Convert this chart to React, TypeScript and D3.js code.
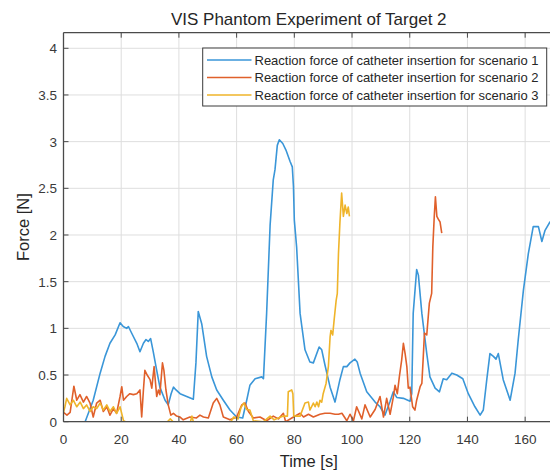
import React, { useEffect, useRef } from 'react';
import * as d3 from 'd3';

// reaction force, [time s, force N]
const scenario1: [number, number][] = [
  [0, 0], [7.5, 0], [10.3, 0.23], [12.7, 0.52], [14.4, 0.7], [16.1, 0.84], [17.9, 0.93], [19.6, 1.06],
  [20.7, 1.02], [21.9, 1.0], [22.5, 1.02], [23.6, 0.95], [25.4, 0.84], [26.5, 0.75], [27.7, 0.84], [28.6, 0.88],
  [29.4, 0.86], [30.2, 0.89], [31.1, 0.75], [32.3, 0.55], [33.4, 0.37], [35.2, 0.23], [36.3, 0.18], [37.3, 0.3],
  [38.1, 0.37], [39, 0.34], [40.4, 0.3], [42.7, 0.27], [45, 0.24], [45.9, 0.63], [46.7, 1.18], [47.9, 1.05],
  [49.6, 0.7], [51.4, 0.48], [53.1, 0.34], [55.4, 0.23], [57.7, 0.125], [60, 0.05], [62.1, 0.04], [63.5, 0.23],
  [64.6, 0.39], [66.4, 0.46], [68.7, 0.48], [69.3, 0.46], [70.4, 1.16], [71.6, 2.1], [72.7, 2.59], [73.3, 2.7],
  [74.1, 2.96], [74.8, 3.02], [76, 2.98], [77.1, 2.91], [78.5, 2.79], [79.3, 2.73], [79.7, 2.52], [80, 2.16],
  [80.8, 1.87], [82, 1.16], [82.6, 1.02], [83.7, 0.77], [85.4, 0.64], [86.6, 0.63], [88.6, 0.8], [89.5, 0.77],
  [90.6, 0.61], [92.4, 0.37], [94.1, 0.21], [95.8, 0.45], [97, 0.59], [98.2, 0.59], [99.3, 0.63], [101, 0.67],
  [101.8, 0.64], [102.8, 0.52], [105.1, 0.32], [108, 0.21], [109.7, 0.16], [111.4, 0.07], [113.2, 0.22],
  [114.3, 0.32], [115.5, 0.26], [117.8, 0.25], [120.1, 0.22], [120.7, 0.3], [121.2, 1.16], [122.4, 1.63],
  [123, 1.57], [124.2, 1.16], [125.9, 0.73], [127, 0.48], [128.8, 0.36], [130.3, 0.32], [131.6, 0.46],
  [132.8, 0.45], [134.6, 0.52], [136.3, 0.5], [138.4, 0.46], [140.3, 0.3], [142.6, 0.16], [144.4, 0.07],
  [145.5, 0.125], [146.7, 0.45], [147.8, 0.73], [149, 0.7], [149.9, 0.67], [150.7, 0.73], [152.4, 0.45],
  [154.8, 0.23], [156.5, 0.52], [157.6, 0.875], [159.4, 1.41], [161.1, 1.8], [162.8, 2.09], [164.6, 2.09],
  [165.8, 1.93], [166.9, 2.05], [168.6, 2.14], [170, 2.15],
];

const scenario2: [number, number][] = [
  [0, 0.1], [1.2, 0.07], [2.3, 0.1], [3.6, 0.38], [4.6, 0.23], [5.7, 0.29], [6.9, 0.21], [8, 0.27],
  [9.2, 0.2], [10.3, 0.05], [11.5, 0.2], [12.7, 0.23], [13.8, 0.11], [15, 0.16], [16.1, 0.07], [17.3, 0.14],
  [18.4, 0.09], [19.6, 0.27], [20.2, 0.375], [20.8, 0.23], [21.9, 0.27], [23, 0.3], [24.2, 0.29], [25.4, 0.3],
  [26.5, 0.34], [27.1, 0.05], [27.7, 0.34], [28.2, 0.55], [29, 0.5], [30, 0.45], [30.6, 0.36], [31.4, 0.59],
  [32.3, 0.27], [32.9, 0.34], [33.4, 0.29], [34.3, 0.63], [34.8, 0.55], [35.5, 0.34], [36.3, 0.18], [37.2, 0.07],
  [38.1, 0.09], [39.2, 0.06], [40.4, 0.05], [41.5, 0.02], [43.8, 0.05], [46.1, 0.04], [47.3, 0.07], [48.5, 0.05],
  [50.2, 0.04], [51.9, 0.2], [53.1, 0.25], [54.2, 0.18], [55.4, 0.05], [57.7, 0.02], [60, 0.05], [61.8, 0.18],
  [62.9, 0.2], [64.1, 0.11], [65.8, 0.04], [68.1, 0.05], [70.4, 0.01], [72.7, 0.06], [74.5, 0.03], [76.2, 0.09],
  [77, 0.0], [79.7, 0.05], [82, 0.09], [83.2, 0.05], [84.9, 0.08], [86.6, 0.05], [88.9, 0.08], [90.6, 0.09],
  [92.4, 0.09], [94.1, 0.08], [95.3, 0.08], [96.5, 0.09], [98.2, 0.01], [99.3, 0.08], [100.5, 0.01],
  [101.6, 0.16], [103.4, 0.03], [104.5, 0.18], [106.3, 0.05], [108, 0.13], [109.7, 0.27], [110.9, 0.05],
  [112, 0.25], [113.2, 0.08], [114.3, 0.26], [114.9, 0.39], [115.7, 0.3], [116.4, 0.48], [117.2, 0.66],
  [117.8, 0.84], [118.4, 0.73], [119, 0.59], [119.5, 0.36], [120.1, 0.37], [121, 0.16], [121.8, 0.125],
  [122.4, 0.23], [123.6, 0.375], [124.2, 0.41], [124.7, 0.7], [125.1, 0.95], [125.9, 0.93], [126.8, 1.27],
  [127.6, 1.375], [128, 1.87], [128.5, 2.2], [128.9, 2.41], [129.4, 2.2], [129.9, 2.17], [130.5, 2.14],
  [131.1, 2.02],
];

const scenario3: [number, number][] = [
  [0, 0.1], [0.5, 0.16], [1.1, 0.25], [2.3, 0.18], [3.4, 0.23], [4.6, 0.16], [5.8, 0.21], [6.9, 0.14],
  [8, 0.18], [9.2, 0.11], [10.3, 0.16], [11.5, 0.14], [12.7, 0.2], [13.8, 0.125], [15, 0.18], [16.1, 0.11],
  [17.3, 0.16], [18.4, 0.09], [19.6, 0.16], [20.8, 0.01], [21.5, 0], [36, 0], [37, 0.03], [38, 0], [44, 0],
  [44.5, 0.06], [45, 0], [58, 0], [59, 0.05], [60.5, 0.03], [61.5, 0.15], [62.5, 0.2], [63.5, 0.13],
  [64.6, 0.125], [65.8, 0.01], [69.3, 0], [71.6, 0.06], [73, 0.02], [76.2, 0.06], [77.6, 0.06], [77.9, 0.32],
  [79.1, 0.34], [79.5, 0.3], [79.8, 0.06], [82, 0.06], [83.7, 0.2], [84.9, 0.21], [85.4, 0.125], [86.6, 0.2],
  [87.2, 0.16], [87.8, 0.21], [88.4, 0.16], [88.9, 0.23], [89.5, 0.21], [90, 0.3], [91, 0.41], [91.8, 0.59],
  [92.4, 0.91], [92.7, 0.98], [93.3, 0.93], [93.8, 1.09], [94.5, 1.3], [94.9, 1.375], [95.3, 1.8],
  [95.8, 2.13], [96.4, 2.45], [97, 2.2], [97.6, 2.32], [98.2, 2.23], [98.7, 2.3], [99.1, 2.2],
];

const legendLabels = [
  'Reaction force of catheter insertion for scenario 1',
  'Reaction force of catheter insertion for scenario 2',
  'Reaction force of catheter insertion for scenario 3',
];
const colors = ['#3a96d8', '#e0602b', '#efb42a'];
const xTicks = [0, 20, 40, 60, 80, 100, 120, 140, 160];
const yTicks = [0, 0.5, 1, 1.5, 2, 2.5, 3, 3.5, 4];

const FONT = '"Liberation Sans", Arial, sans-serif';

const App = () => {
  const svgRef = useRef<SVGSVGElement>(null);

  useEffect(() => {
    const svg = d3.select(svgRef.current);
    svg.selectAll('*').remove();

    const left = 63.5;
    const top = 32.7;
    const width = 490.5;
    const height = 389;

    const x = d3.scaleLinear().domain([0, 170]).range([left, left + width]);
    const y = d3.scaleLinear().domain([0, 4.167]).range([top + height, top]);

    svg.append('rect').attr('width', 550).attr('height', 472).attr('fill', '#fff');

    svg.append('clipPath').attr('id', 'plot-clip')
      .append('rect')
      .attr('x', left).attr('y', top)
      .attr('width', width).attr('height', height);

    // grid
    const grid = svg.append('g').attr('stroke', '#dedede').attr('stroke-width', 1);
    xTicks.forEach(t => {
      grid.append('line')
        .attr('x1', x(t)).attr('x2', x(t))
        .attr('y1', top).attr('y2', top + height);
    });
    yTicks.forEach(t => {
      grid.append('line')
        .attr('x1', left).attr('x2', left + width)
        .attr('y1', y(t)).attr('y2', y(t));
    });

    // lines
    const line = d3.line<[number, number]>()
      .x(d => x(d[0]))
      .y(d => y(d[1]));

    const lines = svg.append('g').attr('clip-path', 'url(#plot-clip)');
    [scenario1, scenario2, scenario3].forEach((data, i) => {
      lines.append('path')
        .datum(data)
        .attr('fill', 'none')
        .attr('stroke', colors[i])
        .attr('stroke-width', 1.6)
        .attr('stroke-linejoin', 'round')
        .attr('d', line);
    });

    // axes box with inward ticks
    const axisColor = '#4a4a4a';
    const box = svg.append('g').attr('stroke', axisColor).attr('stroke-width', 1.3);
    box.append('line').attr('x1', left).attr('x2', left).attr('y1', top).attr('y2', top + height);
    box.append('line').attr('x1', left).attr('x2', left + width).attr('y1', top + height).attr('y2', top + height);
    box.append('line').attr('x1', left).attr('x2', left + width).attr('y1', top).attr('y2', top);
    box.append('line').attr('x1', left + width).attr('x2', left + width).attr('y1', top).attr('y2', top + height);

    const tickG = svg.append('g').attr('stroke', axisColor).attr('stroke-width', 1);
    xTicks.forEach(t => {
      tickG.append('line').attr('x1', x(t)).attr('x2', x(t)).attr('y1', top + height).attr('y2', top + height - 5);
      tickG.append('line').attr('x1', x(t)).attr('x2', x(t)).attr('y1', top).attr('y2', top + 5);
    });
    yTicks.forEach(t => {
      tickG.append('line').attr('x1', left).attr('x2', left + 5).attr('y1', y(t)).attr('y2', y(t));
    });

    // tick labels
    const textColor = '#3a3a3a';
    svg.append('g')
      .selectAll('text')
      .data(xTicks)
      .join('text')
      .attr('x', d => x(d))
      .attr('y', 444)
      .attr('text-anchor', 'middle')
      .attr('font-family', FONT)
      .attr('font-size', 13.5)
      .attr('fill', textColor)
      .text(d => String(d));

    svg.append('g')
      .selectAll('text')
      .data(yTicks)
      .join('text')
      .attr('x', 57)
      .attr('y', d => y(d) + 5)
      .attr('text-anchor', 'end')
      .attr('font-family', FONT)
      .attr('font-size', 13.5)
      .attr('fill', textColor)
      .text(d => String(d));

    // title + labels
    svg.append('text')
      .attr('x', (left + left + width) / 2)
      .attr('y', 25)
      .attr('text-anchor', 'middle')
      .attr('font-family', FONT)
      .attr('font-size', 17)
      .attr('fill', '#262626')
      .text('VIS Phantom Experiment of Target 2');

    svg.append('text')
      .attr('x', (left + left + width) / 2)
      .attr('y', 467)
      .attr('text-anchor', 'middle')
      .attr('font-family', FONT)
      .attr('font-size', 16.5)
      .attr('fill', '#262626')
      .text('Time [s]');

    svg.append('text')
      .attr('transform', `translate(29,${top + height / 2}) rotate(-90)`)
      .attr('text-anchor', 'middle')
      .attr('font-family', FONT)
      .attr('font-size', 16.5)
      .attr('fill', '#262626')
      .text('Force [N]');

    // legend
    const legend = svg.append('g');
    legend.append('rect')
      .attr('x', 202.7).attr('y', 48)
      .attr('width', 344).attr('height', 58)
      .attr('fill', '#fff')
      .attr('stroke', '#3a3a3a')
      .attr('stroke-width', 1);
    legendLabels.forEach((label, i) => {
      const ly = 60 + i * 17.5;
      legend.append('line')
        .attr('x1', 207).attr('x2', 251.5)
        .attr('y1', ly).attr('y2', ly)
        .attr('stroke', colors[i])
        .attr('stroke-width', 1.6);
      legend.append('text')
        .attr('x', 254.5)
        .attr('y', ly + 4.6)
        .attr('font-family', FONT)
        .attr('font-size', 13)
        .attr('fill', '#262626')
        .text(label);
    });
  }, []);

  return (
    <svg
      ref={svgRef}
      width={550}
      height={472}
      style={{ position: 'absolute', left: 0, top: 0 }}
    />
  );
};

export default App;
